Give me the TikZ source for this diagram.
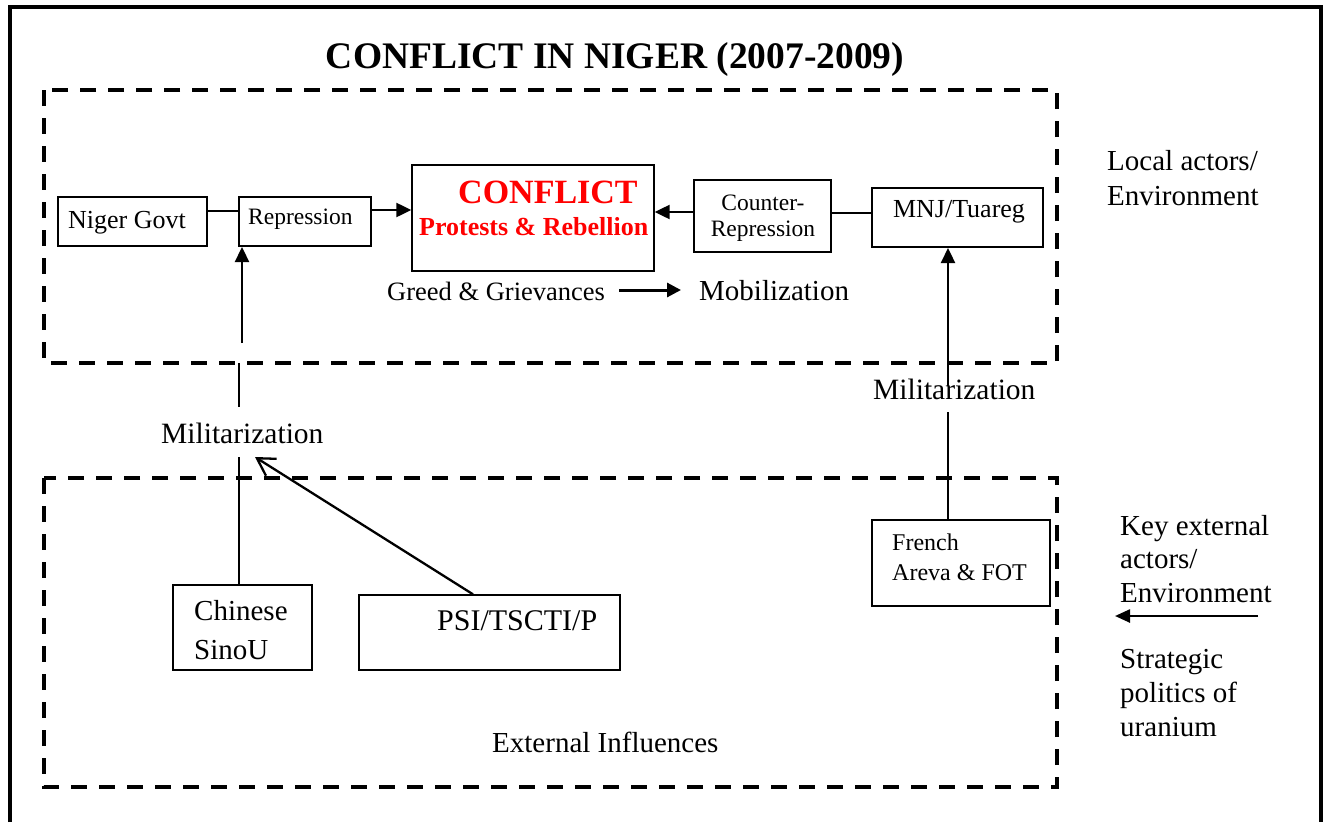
\documentclass[tikz,border=0pt]{standalone}
\usepackage{fontspec}
\setmainfont{Liberation Serif}
\usetikzlibrary{arrows.meta}
\begin{document}
\begin{tikzpicture}[x=1pt,y=-1pt,
  box/.style={draw, line width=2pt, inner sep=0pt},
  thinbox/.style={draw, line width=1.4pt, inner sep=0pt},
  txt/.style={inner sep=0pt, anchor=base west},
  ctxt/.style={inner sep=0pt, anchor=base},
  fs/.style={font=\fontsize{#1}{#1}\selectfont},
  dashbox/.style={line width=4pt, dash pattern=on 16pt off 12pt},
  conn/.style={line width=2.3pt},
  arr/.style={line width=2.3pt, -{Triangle[length=15pt,width=14pt]}},
  barb/.style={line width=2.3pt, -{Straight Barb[length=17pt,width=20pt,line width=2.3pt]}}
]
\useasboundingbox (0,0) rectangle (1324,822);
% outer frame (open at bottom)
\draw[line width=4.5pt] (10,822) -- (10,7) -- (1321,7) -- (1321,822);
% title
\node[ctxt, font=\fontsize{37.5}{37.5}\selectfont\bfseries] (title) at (615,68) {CONFLICT IN NIGER (2007-2009)};
% dashed regions
\draw[dashbox] (44,90) rectangle (1057,363);
\draw[dashbox] (44,478) rectangle (1057,787);

% boxes
\node[box, minimum width=149pt, minimum height=49pt] (govt) at (132.5,221.5) {};
\node[box, minimum width=132pt, minimum height=49pt] (rep) at (305,221.5) {};
\node[thinbox, minimum width=242pt, minimum height=106pt] (conf) at (533,218) {};
\node[box, minimum width=137pt, minimum height=72pt] (cr) at (762.5,216) {};
\node[box, minimum width=171pt, minimum height=59pt] (mnj) at (957.5,217.5) {};
\node[thinbox, minimum width=139pt, minimum height=85pt] (chn) at (242.5,627.5) {};
\node[thinbox, minimum width=261pt, minimum height=75pt] (psi) at (489.5,632.5) {};
\node[thinbox, minimum width=178pt, minimum height=86pt] (fr) at (961,563) {};

% box texts
\node[txt, fs=26] (govtT) at (68,228) {Niger Govt};
\node[txt, fs=23.5] (repT) at (248,224) {Repression};
\node[txt, font=\fontsize{34}{34}\selectfont\bfseries, text=red] (confT1) at (458,203) {CONFLICT};
\node[txt, font=\fontsize{26}{26}\selectfont\bfseries, text=red] (confT2) at (419,235) {Protests \& Rebellion};
\node[ctxt, fs=23.5] (crT1) at (763,210) {Counter-};
\node[ctxt, fs=23.5] (crT2) at (763,236) {Repression};
\node[ctxt, fs=26] (mnjT) at (959,217) {MNJ/Tuareg};
\node[txt, fs=29] (chnT1) at (194,620) {Chinese};
\node[txt, fs=29] (chnT2) at (194,659) {SinoU};
\node[txt, fs=30] (psiT) at (437,630) {PSI/TSCTI/P};
\node[txt, fs=24] (frT1) at (892,550) {French};
\node[txt, fs=24] (frT2) at (892,580) {Areva \& FOT};

% free labels
\node[txt, fs=26.5] (greed) at (387,300) {Greed \& Grievances};
\node[txt, fs=29] (mob) at (699,300) {Mobilization};
\node[txt, fs=29.5] (milL) at (161,443) {Militarization};
\node[txt, fs=29.5] (milR) at (873,399) {Militarization};
\node[txt, fs=29] (ext) at (492,752) {External Influences};
\node[txt, fs=29] (loc1) at (1107,170) {Local actors/};
\node[txt, fs=29] (loc2) at (1107,205) {Environment};
\node[txt, fs=29] (key1) at (1120,535) {Key external};
\node[txt, fs=29] (key2) at (1120,568) {actors/};
\node[txt, fs=29] (key3) at (1120,602) {Environment};
\node[txt, fs=29] (str1) at (1120,668) {Strategic};
\node[txt, fs=29] (str2) at (1120,702) {politics of};
\node[txt, fs=29] (str3) at (1120,736) {uranium};

% coordinates for free ends
\coordinate (g1) at (619,290);
\coordinate (g2) at (681,290);
\coordinate (mLa) at (242,343);
\coordinate (mLb) at (239,363);
\coordinate (mLc) at (239,407);
\coordinate (mLd) at (239,457);
\coordinate (mLtip) at (255,457);
\coordinate (mRa) at (948,386);
\coordinate (mRb) at (948,412);
\coordinate (k1) at (1258,616);
\coordinate (k2) at (1115,616);

% connectors
\draw[conn] ([yshift=10.5pt]govt.east) -- ([yshift=10.5pt]rep.west);
\draw[arr] ([yshift=11.5pt]rep.east) -- ([yshift=8pt]conf.west);
\draw[arr] ([yshift=4pt]cr.west) -- ([yshift=6pt]conf.east);
\draw[conn] ([yshift=3pt]cr.east) -- ([yshift=4.5pt]mnj.west);
\draw[line width=3pt, -{Triangle[length=14pt,width=14pt]}] (g1) -- (g2);
\draw[arr] (mLa) -- (mLa |- rep.south);
\draw[conn] (mLb) -- (mLc);
\draw[conn] (chn.north -| mLd) -- (mLd);
\draw[barb] ([xshift=-16.5pt]psi.north) -- (mLtip);
\draw[arr] (mRa) -- (mRa |- mnj.south);
\draw[conn] (mRb) -- (mRb |- fr.north);
\draw[line width=2.5pt, -{Triangle[length=15pt,width=13pt]}] (k1) -- (k2);
\end{tikzpicture}
\end{document}
